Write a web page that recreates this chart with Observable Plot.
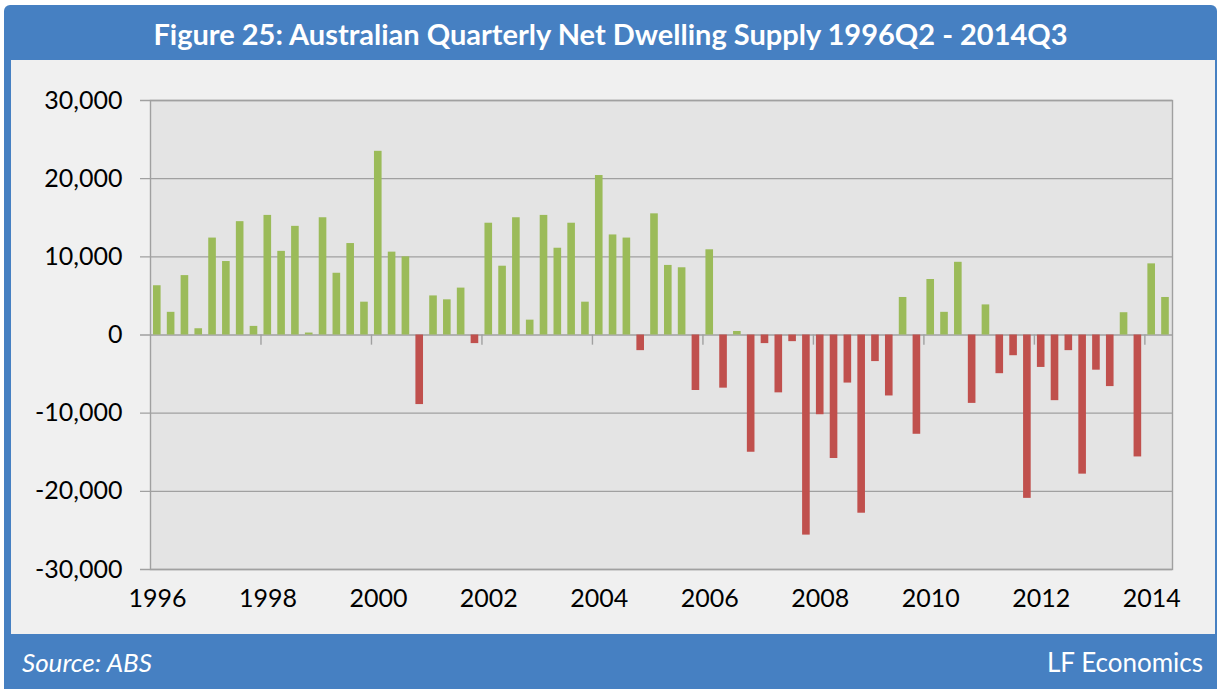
<!DOCTYPE html>
<html>
<head>
<meta charset="utf-8">
<script src="https://cdn.jsdelivr.net/npm/d3@7"></script>
<script src="https://cdn.jsdelivr.net/npm/@observablehq/plot@0.6"></script>
<style>
  html, body { margin: 0; padding: 0; background: #ffffff; }
  #box {
    position: absolute; left: 4px; top: 5px; width: 1213px; height: 684px;
    background: #4680c2; border-radius: 6px 6px 0 0;
  }
  #title {
    position: absolute; left: 0; top: 0; width: 100%; height: 55px;
    color: #ffffff; font-family: Lato, "Open Sans", sans-serif; font-weight: bold;
    font-size: 29px; line-height: 58px; text-align: center;
  }
  #panel {
    position: absolute; left: 7px; top: 55px; width: 1204px; height: 574px;
    background: #f0f0f0;
  }
  #footer {
    position: absolute; left: 0; top: 629px; width: 100%; height: 55px;
    color: #ffffff; font-family: Lato, "Open Sans", sans-serif; font-size: 26px;
  }
  #src { position: absolute; left: 18px; top: 12px; font-style: italic; }
  #brand { position: absolute; right: 14px; top: 12px; }
</style>
</head>
<body>
<div id="box">
  <div id="title">Figure 25: Australian Quarterly Net Dwelling Supply 1996Q2 - 2014Q3</div>
  <div id="panel"></div>
  <div id="footer"><span id="src">Source: ABS</span><span id="brand">LF Economics</span></div>
</div>
<script>
// Quarterly net dwelling supply, 1996Q2 .. 2014Q3 (74 quarters)
const values = [
  6300, 2900, 7600, 800, 12400, 9400, 14500, 1100,
  15300, 10700, 13900, 250, 15000, 7900, 11700, 4200,
  23500, 10600, 10000, -8900, 5000, 4500, 6000, -1100,
  14300, 8800, 15000, 1900, 15300, 11100, 14300, 4200,
  20400, 12800, 12400, -2000, 15500, 8900, 8600, -7100,
  10900, -6800, 450, -15000, -1100, -7400, -850, -25600,
  -10200, -15800, -6150, -22800, -3400, -7800, 4800, -12700,
  7100, 2900, 9300, -8750, 3850, -4950, -2650, -20900,
  -4150, -8400, -2000, -17800, -4500, -6600, 2850, -15600,
  9100, 4800
];
const startYear = 1996, startQuarter = 2;
const quarters = values.map((_, i) => {
  const q = startQuarter - 1 + i;
  return (startYear + Math.floor(q / 4)) + "Q" + (q % 4 + 1);
});
const yearLabels = ["1996", "1998", "2000", "2002", "2004", "2006", "2008", "2010", "2012", "2014"];
const yTicks = [-30000, -20000, -10000, 0, 10000, 20000, 30000];

const data = values.map((v, i) => ({i, quarter: quarters[i], value: v}));
const labelPos = yearLabels.map((_, k) => k * 8 + 0.5);
const tickPos = yearLabels.slice(1).map((_, k) => (k + 1) * 8);
const fmt = d => (d < 0 ? "-" : "") + d3.format(",")(Math.abs(d));

const green = "#9bbb59", red = "#c0504d", gridColor = "#a0a0a0";

const chart = Plot.plot({
  width: 1204, height: 574,
  marginLeft: 139, marginRight: 43, marginTop: 40, marginBottom: 65,
  style: {fontFamily: "Lato, 'Open Sans', sans-serif", background: "transparent", color: "#000"},
  x: {domain: [0, values.length], axis: null},
  y: {domain: [-30000, 30000], axis: null},
  marks: [
    Plot.frame({fill: "#e4e4e4", stroke: null}),
    Plot.ruleY(yTicks, {stroke: gridColor, strokeWidth: 1.4, insetLeft: -10}),
    Plot.rectY(data, {
      x1: "i", x2: d => d.i + 1, y: "value",
      insetLeft: 3, insetRight: 3.2,
      fill: d => d.value >= 0 ? green : red,
      title: d => d.quarter + ": " + fmt(d.value)
    }),
    Plot.ruleX(tickPos, {y1: 0, y2: -1300, stroke: gridColor, strokeWidth: 1.4}),
    Plot.frame({stroke: gridColor, strokeWidth: 1.4}),
    Plot.axisY(yTicks, {tickSize: 0, tickPadding: 28, tickFormat: fmt, fontSize: 25, label: null}),
    Plot.axisX(labelPos, {tickSize: 0, tickPadding: 20, fontSize: 25, label: null,
      tickFormat: d => yearLabels[Math.round((d - 0.5) / 8)]})
  ]
});
document.getElementById("panel").appendChild(chart);
</script>
</body>
</html>
